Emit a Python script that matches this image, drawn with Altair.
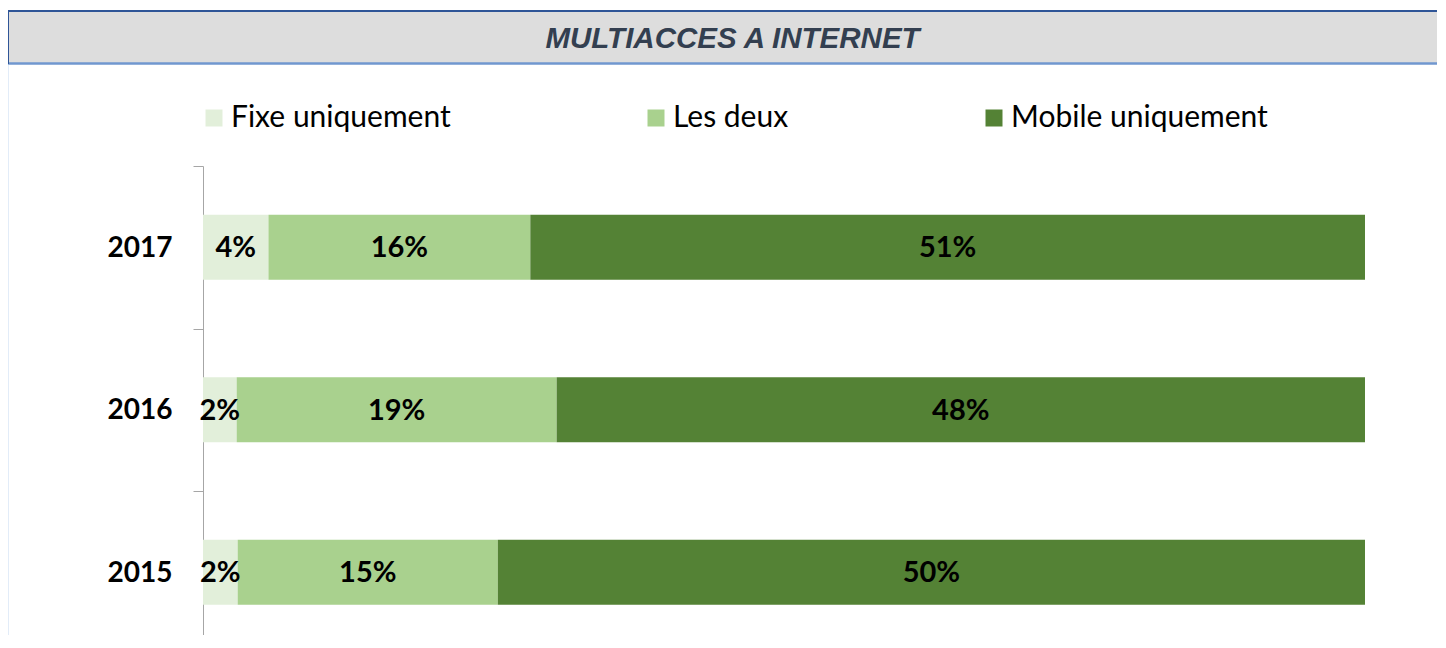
import altair as alt
import pandas as pd

# ---- data ----
years = ["2017", "2016", "2015"]
categories = ["Fixe uniquement", "Les deux", "Mobile uniquement"]
fixe = [4, 2, 2]
deux = [16, 19, 15]
mobile = [51, 48, 50]
colors = ["#E2EFDA", "#A9D18E", "#548235"]
title_text = "MULTIACCES A INTERNET"

rows = []
for i, yr in enumerate(years):
    for k, (cat, vals) in enumerate(zip(categories, [fixe, deux, mobile])):
        rows.append({"year": yr, "cat": cat, "order": k, "value": vals[i],
                     "label": f"{vals[i]}%"})
df = pd.DataFrame(rows)

W = 1162
H = 470
STEP = 487.5 / 3

xscale = alt.Scale(domain=[0, 1], nice=False, zero=False)
yscale = alt.Scale(domain=years, paddingInner=0.6, paddingOuter=0.3, range=[1, 488.5])

base = alt.Chart(df).transform_stack(
    stack="value", groupby=["year"], as_=["x0", "x1"], offset="normalize",
    sort=[alt.SortField("order")]
).transform_calculate(mid="(datum.x0 + datum.x1) / 2")

yaxis = alt.Axis(title=None, domainColor="#A6A6A6", tickColor="#A6A6A6", tickSize=10,
                 tickOffset=-STEP / 2, labelOffset=STEP / 2 + 1, labelPadding=21,
                 labelFont="Lato", labelFontSize=28, labelFontWeight="bold",
                 labelColor="black", grid=False, domainWidth=1, tickWidth=1)

bars = base.mark_bar().encode(
    x=alt.X("x0:Q", scale=xscale, axis=None),
    x2="x1:Q",
    y=alt.Y("year:N", scale=yscale, axis=yaxis),
    color=alt.Color("cat:N", scale=alt.Scale(domain=categories, range=colors),
                    legend=alt.Legend(title=None, orient="none", legendX=-4, legendY=-62,
                                      direction="horizontal", columns=3, columnPadding=190,
                                      symbolType="square", symbolSize=289, symbolStrokeWidth=0,
                                      labelFont="Lato", labelFontSize=30, labelColor="black",
                                      labelLimit=500, labelOffset=2, padding=0)),
    order=alt.Order("order:Q"),
)

labels = base.mark_text(font="Lato", fontSize=29, fontWeight="bold", color="black", dy=1).encode(
    x=alt.X("mid:Q", scale=xscale, axis=None),
    y=alt.Y("year:N", scale=yscale),
    text="label:N",
)

bdf = pd.DataFrame({"t": [title_text]})
banner_bg = alt.Chart(bdf).mark_rect(color="#DDDDDD").encode(
    x=alt.value(-195), x2=alt.value(1240), y=alt.value(-154), y2=alt.value(-102))
banner_top = alt.Chart(bdf).mark_rule(color="#2F5597", strokeWidth=2).encode(
    x=alt.value(-195), x2=alt.value(1240), y=alt.value(-154))
banner_bottom = alt.Chart(bdf).mark_rule(color="#7097CF", strokeWidth=2.5).encode(
    x=alt.value(-195), x2=alt.value(1240), y=alt.value(-101.5))
banner_left = alt.Chart(bdf).mark_rule(color="#2F5597", strokeWidth=2).encode(
    x=alt.value(-195), y=alt.value(-154), y2=alt.value(-101))
frame_left = alt.Chart(bdf).mark_rule(color="#8DB3E2", strokeWidth=1.5).encode(
    x=alt.value(-195.5), y=alt.value(-101), y2=alt.value(500))
banner_text = alt.Chart(bdf).mark_text(font="Liberation Sans", fontSize=29.5, fontWeight="bold",
                                       fontStyle="italic", color="#333F50",
                                       align="center", baseline="middle").encode(
    x=alt.value(529.5), y=alt.value(-126.5), text="t:N")

chart = alt.layer(
    banner_bg, banner_top, banner_bottom, banner_left, frame_left, banner_text, bars, labels
).properties(
    width=W, height=H,
    padding={"left": 195, "top": 157, "right": 72, "bottom": 0},
    autosize=alt.AutoSizeParams(type="none"),
    background="white",
).configure_view(strokeWidth=0, stroke=None)

chart.save("out.html", embed_options={"renderer": "svg", "actions": False})
